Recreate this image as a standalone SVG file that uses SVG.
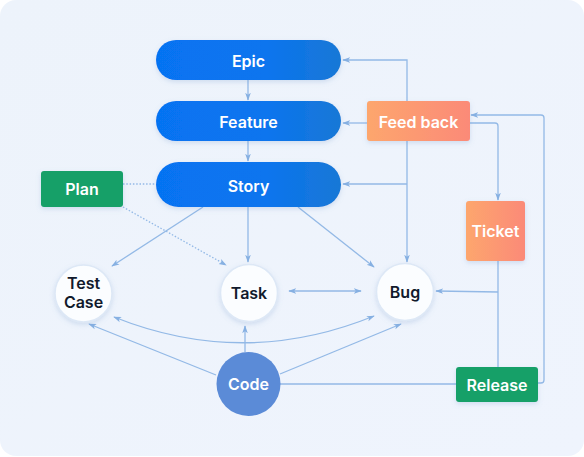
<svg xmlns="http://www.w3.org/2000/svg" width="584" height="457" viewBox="0 0 584 457">
<defs>
<linearGradient id="bg" x1="0" y1="0" x2="1" y2="1"><stop offset="0" stop-color="#edf3fb"/><stop offset="1" stop-color="#eff4fd"/></linearGradient>
<linearGradient id="blue" x1="0" y1="0" x2="1" y2="0"><stop offset="0" stop-color="#0673f2"/><stop offset="0.6" stop-color="#0a74ee"/><stop offset="1" stop-color="#1878d6"/></linearGradient>
<linearGradient id="orange" x1="0" y1="0" x2="1" y2="0"><stop offset="0" stop-color="#fda66d"/><stop offset="1" stop-color="#fb8a78"/></linearGradient>
<filter id="sh" x="-30%" y="-30%" width="160%" height="160%"><feDropShadow dx="0" dy="2" stdDeviation="2.5" flood-color="#6f94c8" flood-opacity="0.25"/></filter>
<marker id="ah" viewBox="0 0 10 10" refX="9" refY="5" markerWidth="8" markerHeight="8" orient="auto-start-reverse" markerUnits="userSpaceOnUse"><path d="M0,1.5 L10,5 L0,8.5 L2.5,5 Z" fill="#86b0e2"/></marker>
<style>
.ln{fill:none;stroke:#93b9e6;stroke-width:1.3}
.dot{fill:none;stroke:#93b9e6;stroke-width:1.3;stroke-dasharray:1.5 1.8}
.lt{font-family:Inter,"Noto Sans",sans-serif;font-weight:600;font-size:16px;fill:#ffffff;text-anchor:middle}
.dk{font-family:Inter,"Noto Sans",sans-serif;font-weight:600;font-size:16px;fill:#111a2c;text-anchor:middle}
.circ{fill:#fbfdff;stroke:#dde8f6;stroke-width:1.5}
</style>
</defs>
<rect x="0" y="0" width="584" height="457" fill="#ffffff"/>
<rect x="0" y="0" width="584" height="456" rx="16" fill="url(#bg)"/>

<g id="connectors">
<line class="ln" x1="248" y1="80" x2="248" y2="100" marker-end="url(#ah)"/>
<line class="ln" x1="248" y1="141" x2="248" y2="161" marker-end="url(#ah)"/>
<path class="ln" d="M407,184 L407,60 L343,60" marker-end="url(#ah)"/>
<line class="ln" x1="407" y1="184" x2="343" y2="184" marker-end="url(#ah)"/>
<line class="ln" x1="407" y1="184" x2="407" y2="262" marker-end="url(#ah)"/>
<line class="ln" x1="367" y1="123" x2="343" y2="123" marker-end="url(#ah)"/>
<path class="ln" d="M470,123 L495,123 Q498,123 498,126 L498,200" marker-end="url(#ah)"/>
<path class="ln" d="M538,383 L541,383 Q544,383 544,380 L544,118 Q544,115 541,115 L471,115" marker-end="url(#ah)"/>
<line class="ln" x1="498" y1="261" x2="498" y2="367"/>
<path class="ln" d="M498,292 L436,291" marker-end="url(#ah)"/>
<line class="ln" x1="280" y1="384" x2="456" y2="384"/>
<line class="ln" x1="203" y1="207" x2="112" y2="266" marker-end="url(#ah)"/>
<line class="ln" x1="248" y1="207" x2="248" y2="262" marker-end="url(#ah)"/>
<line class="ln" x1="298" y1="207" x2="374" y2="267" marker-end="url(#ah)"/>
<line class="dot" x1="123" y1="184" x2="156" y2="184"/>
<line class="dot" x1="123" y1="207" x2="226" y2="265" marker-end="url(#ah)"/>
<line class="ln" x1="289" y1="291" x2="361" y2="291" marker-start="url(#ah)" marker-end="url(#ah)"/>
<path class="ln" d="M114,317 Q244,369 374,316" marker-start="url(#ah)" marker-end="url(#ah)"/>
<line class="ln" x1="216" y1="375" x2="89" y2="324" marker-end="url(#ah)"/>
<line class="ln" x1="245" y1="352" x2="245" y2="326" marker-end="url(#ah)"/>
<line class="ln" x1="280" y1="374" x2="401" y2="324" marker-end="url(#ah)"/>
</g>

<g id="epic"><rect x="156" y="40" width="185" height="40" rx="20" fill="url(#blue)" filter="url(#sh)"/><text class="lt" x="248.5" y="66.5">Epic</text></g>
<g id="feature"><rect x="156" y="101" width="185" height="40" rx="20" fill="url(#blue)" filter="url(#sh)"/><text class="lt" x="248.5" y="127.5">Feature</text></g>
<g id="story"><rect x="156" y="162" width="185" height="45" rx="22.5" fill="url(#blue)" filter="url(#sh)"/><text class="lt" x="248.5" y="191.5">Story</text></g>
<g id="feedback"><rect x="367" y="101" width="103" height="40" rx="3" fill="url(#orange)" filter="url(#sh)"/><text class="lt" x="418.5" y="127.5">Feed back</text></g>
<g id="plan"><rect x="41" y="171" width="82" height="36" rx="3" fill="#17a068" filter="url(#sh)"/><text class="lt" x="82" y="195">Plan</text></g>
<g id="ticket"><rect x="466" y="201" width="59" height="60" rx="3" fill="url(#orange)" filter="url(#sh)"/><text class="lt" x="495.5" y="237">Ticket</text></g>
<g id="release"><rect x="456" y="367" width="82" height="35" rx="3" fill="#17a068" filter="url(#sh)"/><text class="lt" x="497" y="390.5">Release</text></g>

<g id="testcase"><circle class="circ" cx="83.5" cy="293.5" r="28.5" filter="url(#sh)"/><text class="dk" x="83.5" y="289">Test</text><text class="dk" x="83.5" y="307.5">Case</text></g>
<g id="task"><circle class="circ" cx="249" cy="293" r="28.5" filter="url(#sh)"/><text class="dk" x="249" y="299">Task</text></g>
<g id="bug"><circle class="circ" cx="405" cy="292" r="28.5" filter="url(#sh)"/><text class="dk" x="405" y="298">Bug</text></g>
<g id="code"><circle cx="248.5" cy="384" r="32" fill="#5b8bd7"/><text class="lt" x="248.5" y="390">Code</text></g>
</svg>
